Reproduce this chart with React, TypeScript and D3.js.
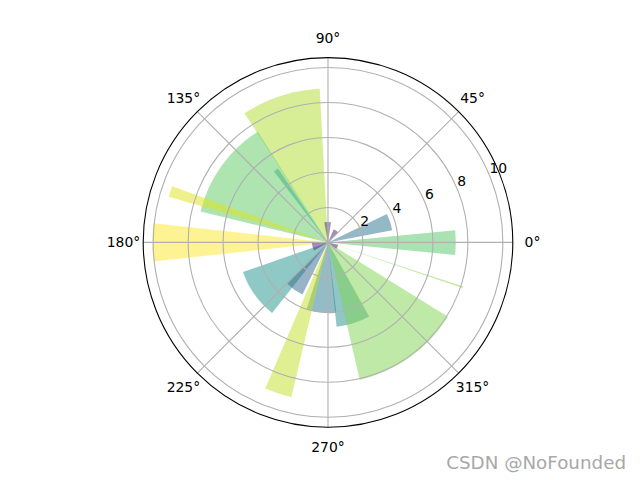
import React from "react";
import * as d3 from "d3";

// bar centres (degrees, counter-clockwise from east), widths (degrees), radii
const thetaDeg = [180, 108, 125.7, 144.4, 162.1, 18.2, -0.1, 341.6, 287.4, 305.6, 264.5, 251.7, 215.4, 234.3, 91, 55, 196, 335];
const widthDeg = [12.5, 29.8, 3.2, 44, 3.8, 14.9, 11.2, 0.6, 23.2, 45.2, 24.5, 9.9, 32.4, 19.2, 19, 23, 28, 25];
const radii = [10.05, 8.8, 5.1, 7.5, 9.48, 3.74, 7.31, 8.13, 4.85, 8.07, 4.05, 9.1, 5.15, 3.32, 1.17, 0.82, 0.92, 0.6];

const rTicks = [2, 4, 6, 8, 10];
const thetaTicks = [0, 45, 90, 135, 180, 225, 270, 315];
const rMax = 10.57;

const W = 640, H = 480;
const cx = 328, cy = 242.4, R = 184.8;

export default function App() {
  const r = d3.scaleLinear().domain([0, rMax]).range([0, R]);
  const toRad = (d: number) => (d * Math.PI) / 180;
  const arc = d3.arc<any>();
  const font = "'DejaVu Sans', sans-serif";

  const bars = radii.map((rad, i) => {
    const th = toRad(thetaDeg[i]);
    const w = toRad(widthDeg[i]);
    const a0 = Math.PI / 2 - th - w / 2;
    const a1 = Math.PI / 2 - th + w / 2;
    const d = arc({ innerRadius: 0, outerRadius: r(rad), startAngle: a0, endAngle: a1 }) || "";
    return <path key={i} d={d} fill={d3.interpolateViridis(rad / 10)} fillOpacity={0.5} />;
  });

  const lblAng = toRad(22.5);

  return (
    <svg width={W} height={H} style={{ position: "absolute", left: 0, top: 0, background: "#fff" }}>
      <rect width={W} height={H} fill="#fff" />
      <g transform={`translate(${cx},${cy})`}>
        {bars}
        {rTicks.map((t) => (
          <circle key={"c" + t} r={r(t)} fill="none" stroke="#b0b0b0" strokeWidth={1.1} />
        ))}
        {thetaTicks.map((t) => (
          <line key={"l" + t} x1={0} y1={0} x2={R * Math.cos(toRad(t))} y2={-R * Math.sin(toRad(t))}
            stroke="#b0b0b0" strokeWidth={1.1} />
        ))}
        <circle r={R} fill="none" stroke="#000" strokeWidth={1.1} />
        {rTicks.map((t) => (
          <text key={"rt" + t} x={r(t) * Math.cos(lblAng)} y={-r(t) * Math.sin(lblAng) - 3}
            fontFamily={font} fontSize={13.9} textAnchor="start" fill="#000">{t}</text>
        ))}
        {thetaTicks.map((t) => (
          <text key={"tt" + t} x={(R + 19.7) * Math.cos(toRad(t))} y={-(R + 19.7) * Math.sin(toRad(t))}
            dy="0.36em" fontFamily={font} fontSize={13.9} textAnchor="middle" fill="#000">{t + "°"}</text>
        ))}
      </g>
      <text x={626} y={469} textAnchor="end" fontFamily={font} fontSize={18.3} fill="#fff" stroke="#fff" strokeWidth={2}>CSDN @NoFounded</text>
      <text x={626} y={469} textAnchor="end" fontFamily={font} fontSize={18.3} fill="#a8a8a8">CSDN @NoFounded</text>
    </svg>
  );
}
